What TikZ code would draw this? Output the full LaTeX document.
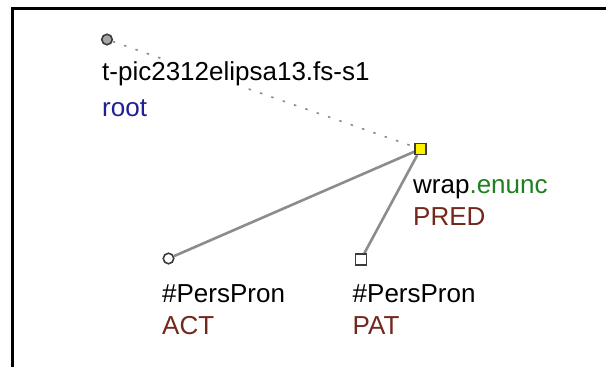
\documentclass[tikz,border=0pt]{standalone}
\usepackage{fontspec}
\setmainfont{Liberation Sans}
\usetikzlibrary{backgrounds}
\definecolor{rootblue}{RGB}{30,30,150}
\definecolor{funcgreen}{RGB}{30,128,30}
\definecolor{fbrown}{RGB}{115,40,28}
\definecolor{edgegray}{RGB}{140,140,140}
\definecolor{nodestroke}{RGB}{60,60,60}
\begin{document}
\begin{tikzpicture}[x=1pt,y=-1pt,
  lbl/.style={anchor=base west,inner xsep=1pt,inner ysep=1.5pt,fill=white,font=\fontsize{26}{30}\selectfont},
  circnode/.style={circle,draw=nodestroke,line width=1.6pt,minimum size=10.5pt,inner sep=0pt},
  sqnode/.style={rectangle,draw=nodestroke,line width=1.4pt,minimum size=11pt,inner sep=0pt},
  edge/.style={draw=edgegray,line width=2.6pt},
  dotedge/.style={draw=edgegray,line width=1.6pt,dash pattern=on 2.5pt off 9.5pt}
]
\useasboundingbox (0,0) rectangle (606,367);
\draw[line width=3pt] (12,370) -- (12,8.5) -- (610,8.5);
% nodes
\node[circnode,fill=gray!70] (root) at (107,39.5) {};
\node[sqnode,fill=yellow] (pred) at (420.5,149) {};
\node[circnode,fill=white] (act) at (168.5,258.5) {};
\node[sqnode,fill=white] (pat) at (361,259.5) {};
% labels
\node[lbl] (t1) at (101,80) {t-pic2312elipsa13.fs-s1};
\node[lbl,text=rootblue] (t2) at (101,116.7) {root};
\node[lbl] (t3) at (412,193) {wrap\textcolor{funcgreen}{.enunc}};
\node[lbl,text=fbrown] (t4) at (412,225) {PRED};
\node[lbl] (t5) at (161,302.5) {\#PersPron};
\node[lbl,text=fbrown] (t6) at (161,334) {ACT};
\node[lbl] (t7) at (351.5,302.5) {\#PersPron};
\node[lbl,text=fbrown] (t8) at (351.5,334) {PAT};
% edges
\begin{scope}[on background layer]
\draw[dotedge] (root) -- (pred);
\draw[edge] (pred) -- (act);
\draw[edge] (pred) -- (pat);
\end{scope}
\end{tikzpicture}
\end{document}
